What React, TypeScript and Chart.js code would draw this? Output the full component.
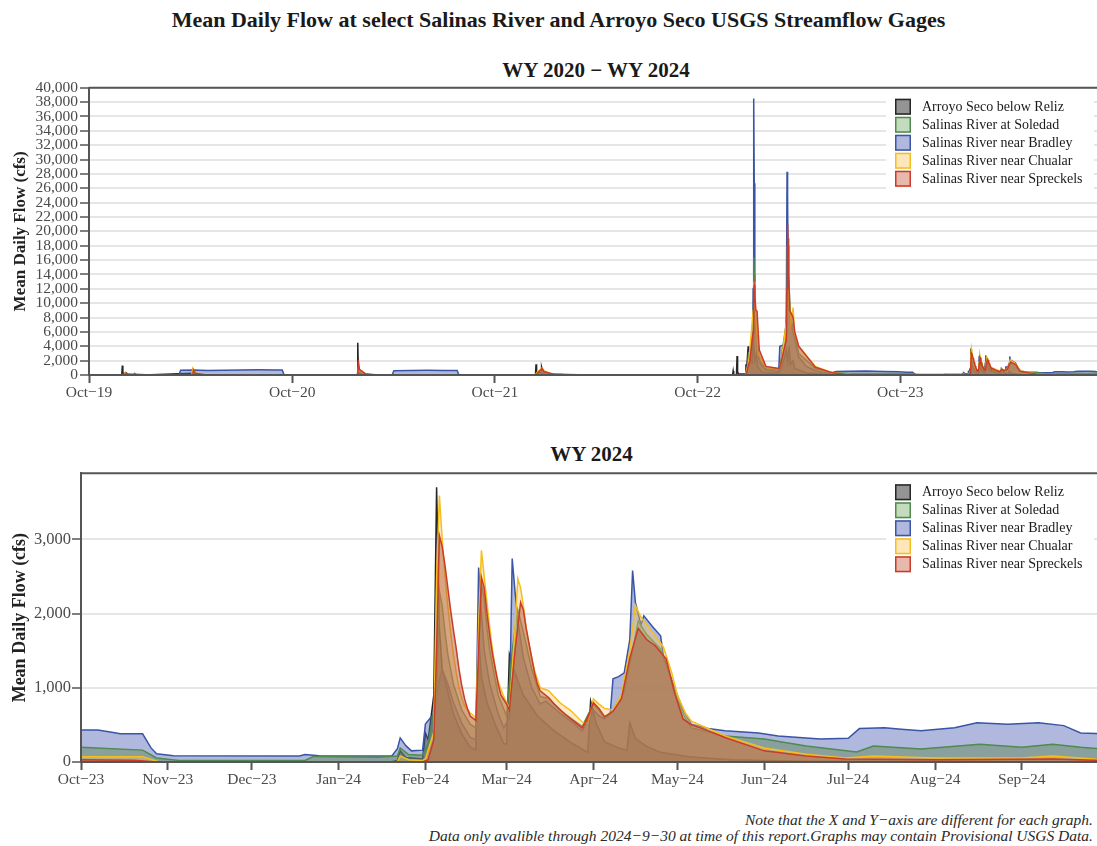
import React, { useEffect, useRef } from "react";
import { Chart, registerables } from "chart.js";

Chart.register(...registerables);

type Pt = [string, number];

// ---------- WY2020 – WY2023 (Oct 2019 – Sep 2023) ----------
const arroyoEarly: Pt[] = [
  ["2019-10-01", 3], ["2019-11-29", 5], ["2019-11-30", 1300], ["2019-12-01", 350], ["2019-12-03", 150],
  ["2019-12-06", 300], ["2019-12-08", 120], ["2019-12-21", 80], ["2019-12-22", 200], ["2019-12-25", 70],
  ["2020-01-20", 30], ["2020-04-05", 250], ["2020-04-08", 80], ["2020-06-01", 5],
  ["2021-01-26", 5], ["2021-01-27", 4500], ["2021-01-28", 900], ["2021-01-31", 300], ["2021-02-15", 80],
  ["2021-04-15", 15], ["2021-12-13", 5], ["2021-12-14", 1500], ["2021-12-15", 400], ["2021-12-23", 300],
  ["2021-12-24", 1100], ["2021-12-26", 500], ["2021-12-31", 250], ["2022-02-01", 60], ["2022-05-01", 5],
  ["2022-12-03", 5], ["2022-12-04", 560], ["2022-12-05", 50], ["2022-12-10", 50], ["2022-12-11", 2650],
  ["2022-12-12", 400], ["2022-12-14", 150], ["2022-12-26", 150], ["2022-12-27", 1500], ["2022-12-28", 500],
  ["2022-12-31", 4000], ["2023-01-01", 1800], ["2023-01-04", 2500], ["2023-01-05", 3500], ["2023-01-07", 1500],
  ["2023-01-09", 6000], ["2023-01-10", 4000], ["2023-01-12", 2000], ["2023-01-15", 3000], ["2023-01-17", 1200],
  ["2023-01-25", 400], ["2023-02-15", 250], ["2023-02-25", 350], ["2023-03-01", 1000], ["2023-03-10", 3500],
  ["2023-03-12", 2000], ["2023-03-15", 4000], ["2023-03-17", 1500], ["2023-03-22", 2000], ["2023-03-25", 900],
  ["2023-04-15", 300], ["2023-05-15", 100], ["2023-06-15", 30], ["2023-09-30", 5],
];

const bradleyEarly: Pt[] = [
  ["2019-10-01", 30], ["2019-11-30", 60], ["2019-12-06", 120], ["2019-12-15", 50], ["2020-03-11", 30],
  ["2020-03-14", 650], ["2020-04-06", 700], ["2020-05-01", 620], ["2020-06-01", 660], ["2020-07-01", 700],
  ["2020-08-01", 720], ["2020-09-01", 710], ["2020-09-13", 700], ["2020-09-16", 60], ["2021-01-26", 20],
  ["2021-01-28", 300], ["2021-02-10", 60], ["2021-03-30", 30], ["2021-04-02", 600], ["2021-05-01", 620],
  ["2021-06-01", 650], ["2021-07-01", 640], ["2021-07-25", 620], ["2021-07-28", 20], ["2021-12-22", 10],
  ["2021-12-25", 200], ["2022-01-10", 60], ["2022-06-01", 10], ["2022-12-24", 10], ["2022-12-28", 300],
  ["2022-12-31", 2500], ["2023-01-02", 1500], ["2023-01-05", 3000], ["2023-01-08", 5000], ["2023-01-09", 12000],
  ["2023-01-10", 38500], ["2023-01-11", 26700], ["2023-01-12", 13000], ["2023-01-13", 8000], ["2023-01-16", 4000],
  ["2023-01-22", 1500], ["2023-02-01", 700], ["2023-02-24", 500], ["2023-02-26", 4000], ["2023-03-05", 4200],
  ["2023-03-09", 4500], ["2023-03-10", 12000], ["2023-03-11", 28300], ["2023-03-12", 25000], ["2023-03-13", 14000],
  ["2023-03-15", 9000], ["2023-03-18", 7000], ["2023-03-22", 6000], ["2023-04-01", 2500], ["2023-04-15", 1200],
  ["2023-05-01", 600], ["2023-05-20", 250], ["2023-06-01", 350], ["2023-06-08", 480], ["2023-07-01", 520],
  ["2023-08-01", 560], ["2023-09-01", 500], ["2023-09-30", 440],
];

const soledadEarly: Pt[] = [
  ["2019-10-01", 20], ["2019-12-01", 30], ["2019-12-07", 250], ["2019-12-15", 60], ["2020-04-04", 40],
  ["2020-04-07", 300], ["2020-04-15", 60], ["2020-06-01", 10], ["2021-01-26", 10], ["2021-01-28", 800],
  ["2021-02-05", 150], ["2021-03-01", 30], ["2021-12-22", 30], ["2021-12-25", 500], ["2022-01-05", 150],
  ["2022-03-01", 20], ["2022-12-26", 20], ["2022-12-30", 800], ["2023-01-01", 3000], ["2023-01-05", 2500],
  ["2023-01-09", 8000], ["2023-01-10", 16400], ["2023-01-11", 14000], ["2023-01-12", 10000], ["2023-01-14", 6000],
  ["2023-01-20", 2000], ["2023-02-01", 900], ["2023-02-25", 700], ["2023-03-01", 2500], ["2023-03-11", 8000],
  ["2023-03-12", 17000], ["2023-03-13", 19000], ["2023-03-14", 14000], ["2023-03-17", 8000], ["2023-03-24", 6000],
  ["2023-04-01", 3000], ["2023-05-01", 900], ["2023-06-01", 300], ["2023-07-01", 200], ["2023-09-30", 200],
];

const chualarEarly: Pt[] = [
  ["2019-10-01", 10], ["2019-12-04", 10], ["2019-12-06", 400], ["2019-12-09", 120], ["2019-12-25", 100],
  ["2020-01-15", 20], ["2020-04-03", 10], ["2020-04-05", 900], ["2020-04-08", 300], ["2020-05-01", 20],
  ["2021-01-26", 10], ["2021-01-28", 1000], ["2021-01-31", 500], ["2021-02-15", 50], ["2021-12-13", 10],
  ["2021-12-15", 300], ["2021-12-25", 1000], ["2021-12-28", 600], ["2022-01-10", 150], ["2022-03-01", 10],
  ["2022-12-26", 10], ["2022-12-31", 1500], ["2023-01-02", 2500], ["2023-01-09", 9000], ["2023-01-10", 12500],
  ["2023-01-11", 13000], ["2023-01-12", 10500], ["2023-01-14", 7500], ["2023-01-18", 3000], ["2023-02-01", 1000],
  ["2023-02-25", 800], ["2023-03-01", 2000], ["2023-03-11", 8000], ["2023-03-12", 18000], ["2023-03-13", 17000],
  ["2023-03-15", 10000], ["2023-03-18", 7000], ["2023-03-22", 9400], ["2023-03-24", 6000], ["2023-04-01", 4000],
  ["2023-05-01", 1200], ["2023-06-01", 300], ["2023-07-01", 120], ["2023-09-30", 70],
];

const spreckelsEarly: Pt[] = [
  ["2019-10-01", 5], ["2019-12-05", 10], ["2019-12-07", 300], ["2019-12-10", 100], ["2020-01-10", 20],
  ["2020-04-05", 10], ["2020-04-06", 700], ["2020-04-09", 250], ["2020-05-01", 10], ["2021-01-26", 5],
  ["2021-01-27", 50], ["2021-01-28", 2050], ["2021-01-30", 800], ["2021-02-10", 150], ["2021-03-01", 10],
  ["2021-12-14", 5], ["2021-12-16", 200], ["2021-12-25", 900], ["2021-12-28", 500], ["2022-01-15", 80],
  ["2022-03-01", 5], ["2022-12-27", 5], ["2022-12-31", 1200], ["2023-01-03", 2000], ["2023-01-09", 6000],
  ["2023-01-10", 12000], ["2023-01-11", 12500], ["2023-01-12", 11000], ["2023-01-14", 9000], ["2023-01-16", 8900],
  ["2023-01-20", 3500], ["2023-02-01", 1200], ["2023-02-25", 900], ["2023-03-01", 2000], ["2023-03-10", 5000],
  ["2023-03-11", 12000], ["2023-03-12", 21000], ["2023-03-13", 18000], ["2023-03-14", 14000], ["2023-03-16", 9000],
  ["2023-03-22", 8000], ["2023-03-25", 6000], ["2023-04-01", 4000], ["2023-05-01", 1100], ["2023-06-01", 300],
  ["2023-07-01", 50], ["2023-09-30", 25],
];

// ---------- WY2024 (Oct 2023 – Sep 2024) ----------
const arroyo24: Pt[] = [
  ["2023-10-01", 5], ["2024-01-20", 5], ["2024-01-22", 20], ["2024-01-23", 150], ["2024-01-25", 60],
  ["2024-01-31", 40], ["2024-02-01", 390], ["2024-02-02", 300], ["2024-02-04", 900], ["2024-02-05", 3700],
  ["2024-02-06", 1800], ["2024-02-07", 1250], ["2024-02-09", 950], ["2024-02-11", 650], ["2024-02-14", 380],
  ["2024-02-17", 200], ["2024-02-19", 160], ["2024-02-20", 1700], ["2024-02-21", 1150], ["2024-02-23", 800],
  ["2024-02-26", 500], ["2024-02-29", 250], ["2024-03-01", 240], ["2024-03-02", 1450], ["2024-03-04", 1200],
  ["2024-03-07", 900], ["2024-03-12", 620], ["2024-03-18", 420], ["2024-03-24", 260], ["2024-03-30", 130],
  ["2024-03-31", 820], ["2024-04-02", 520], ["2024-04-05", 270], ["2024-04-10", 190], ["2024-04-13", 160],
  ["2024-04-14", 530], ["2024-04-16", 320], ["2024-04-20", 210], ["2024-04-25", 130], ["2024-05-05", 70],
  ["2024-05-20", 30], ["2024-06-15", 10], ["2024-09-30", 2],
];

const bradley24: Pt[] = [
  ["2023-10-01", 430], ["2023-10-07", 430], ["2023-10-12", 400], ["2023-10-15", 380], ["2023-10-23", 380],
  ["2023-10-26", 190], ["2023-10-28", 110], ["2023-11-03", 85], ["2023-12-18", 80], ["2023-12-20", 100],
  ["2023-12-25", 85], ["2024-01-20", 80], ["2024-01-22", 180], ["2024-01-23", 325], ["2024-01-25", 220],
  ["2024-01-27", 150], ["2024-01-31", 160], ["2024-02-01", 510], ["2024-02-04", 650], ["2024-02-06", 1100],
  ["2024-02-07", 1250], ["2024-02-09", 1050], ["2024-02-11", 800], ["2024-02-14", 520], ["2024-02-17", 330],
  ["2024-02-19", 300], ["2024-02-20", 2620], ["2024-02-21", 2000], ["2024-02-22", 1500], ["2024-02-24", 1050],
  ["2024-02-27", 650], ["2024-02-29", 460], ["2024-03-02", 600], ["2024-03-03", 2740], ["2024-03-04", 2300],
  ["2024-03-05", 1900], ["2024-03-07", 1400], ["2024-03-10", 1000], ["2024-03-13", 780], ["2024-03-15", 820],
  ["2024-03-20", 660], ["2024-03-25", 520], ["2024-03-28", 420], ["2024-04-01", 700], ["2024-04-03", 620],
  ["2024-04-05", 580], ["2024-04-07", 650], ["2024-04-08", 1120], ["2024-04-10", 1150], ["2024-04-12", 1200],
  ["2024-04-14", 1650], ["2024-04-15", 2580], ["2024-04-16", 2150], ["2024-04-18", 1850], ["2024-04-19", 1970],
  ["2024-04-22", 1830], ["2024-04-25", 1700], ["2024-04-26", 1430], ["2024-04-30", 1000], ["2024-05-03", 700],
  ["2024-05-06", 510], ["2024-05-12", 450], ["2024-05-18", 420], ["2024-05-30", 390], ["2024-06-06", 350],
  ["2024-06-21", 310], ["2024-07-01", 320], ["2024-07-05", 450], ["2024-07-14", 460], ["2024-07-20", 440],
  ["2024-07-27", 420], ["2024-08-08", 460], ["2024-08-16", 530], ["2024-08-27", 510], ["2024-09-07", 530],
  ["2024-09-16", 490], ["2024-09-22", 390], ["2024-09-30", 380],
];

const soledad24: Pt[] = [
  ["2023-10-01", 200], ["2023-10-23", 160], ["2023-10-28", 55], ["2023-11-05", 20], ["2023-12-20", 20],
  ["2023-12-23", 75], ["2024-01-15", 65], ["2024-01-22", 80], ["2024-01-23", 190], ["2024-01-26", 100],
  ["2024-01-31", 90], ["2024-02-02", 250], ["2024-02-05", 900], ["2024-02-06", 2300], ["2024-02-07", 2100],
  ["2024-02-08", 1750], ["2024-02-09", 1450], ["2024-02-11", 1050], ["2024-02-14", 700], ["2024-02-17", 510],
  ["2024-02-19", 460], ["2024-02-20", 1400], ["2024-02-21", 2400], ["2024-02-22", 2200], ["2024-02-23", 1800],
  ["2024-02-24", 1500], ["2024-02-27", 900], ["2024-03-01", 620], ["2024-03-03", 1500], ["2024-03-05", 2050],
  ["2024-03-07", 1750], ["2024-03-10", 1250], ["2024-03-13", 880], ["2024-03-16", 860], ["2024-03-20", 700],
  ["2024-03-25", 560], ["2024-03-28", 480], ["2024-04-01", 780], ["2024-04-03", 700], ["2024-04-05", 600],
  ["2024-04-08", 700], ["2024-04-12", 950], ["2024-04-15", 1500], ["2024-04-17", 1900], ["2024-04-20", 1720],
  ["2024-04-25", 1520], ["2024-04-28", 1200], ["2024-05-01", 850], ["2024-05-03", 650], ["2024-05-06", 460],
  ["2024-05-18", 350], ["2024-06-01", 310], ["2024-06-16", 215], ["2024-07-04", 135], ["2024-07-10", 215],
  ["2024-07-27", 175], ["2024-08-17", 240], ["2024-09-01", 200], ["2024-09-12", 240], ["2024-09-22", 200],
  ["2024-09-30", 175],
];

const chualar24: Pt[] = [
  ["2023-10-01", 70], ["2023-10-23", 70], ["2023-10-29", 2], ["2024-01-22", 2], ["2024-01-23", 80],
  ["2024-01-26", 30], ["2024-01-31", 20], ["2024-02-01", 40], ["2024-02-04", 400], ["2024-02-05", 2500],
  ["2024-02-06", 3590], ["2024-02-07", 3000], ["2024-02-08", 2500], ["2024-02-09", 2100], ["2024-02-10", 1750],
  ["2024-02-11", 1450], ["2024-02-12", 1200], ["2024-02-13", 1000], ["2024-02-14", 860], ["2024-02-15", 760],
  ["2024-02-17", 660], ["2024-02-19", 600], ["2024-02-20", 1800], ["2024-02-21", 2850], ["2024-02-22", 2500],
  ["2024-02-23", 2150], ["2024-02-24", 1800], ["2024-02-25", 1500], ["2024-02-26", 1250], ["2024-02-27", 1080],
  ["2024-02-29", 880], ["2024-03-01", 800], ["2024-03-02", 720], ["2024-03-04", 1800], ["2024-03-05", 2470],
  ["2024-03-06", 2350], ["2024-03-07", 2100], ["2024-03-08", 1800], ["2024-03-09", 1580], ["2024-03-10", 1400],
  ["2024-03-11", 1230], ["2024-03-13", 1000], ["2024-03-16", 960], ["2024-03-20", 800], ["2024-03-24", 690],
  ["2024-03-28", 540], ["2024-03-30", 520], ["2024-04-01", 850], ["2024-04-03", 780], ["2024-04-05", 720],
  ["2024-04-08", 700], ["2024-04-11", 900], ["2024-04-14", 1500], ["2024-04-16", 2110], ["2024-04-18", 1950],
  ["2024-04-22", 1750], ["2024-04-26", 1550], ["2024-04-29", 1200], ["2024-05-01", 900], ["2024-05-04", 650],
  ["2024-05-06", 550], ["2024-05-18", 350], ["2024-06-01", 190], ["2024-06-16", 105], ["2024-06-30", 55],
  ["2024-07-10", 80], ["2024-08-01", 55], ["2024-09-01", 55], ["2024-09-12", 80], ["2024-09-30", 30],
];

const spreckels24: Pt[] = [
  ["2023-10-01", 30], ["2023-10-20", 25], ["2023-10-28", 1], ["2024-01-31", 1], ["2024-02-02", 30],
  ["2024-02-04", 300], ["2024-02-05", 1500], ["2024-02-06", 3050], ["2024-02-07", 2900], ["2024-02-08", 2650],
  ["2024-02-09", 2350], ["2024-02-10", 2050], ["2024-02-11", 1780], ["2024-02-12", 1530], ["2024-02-13", 1250],
  ["2024-02-14", 1030], ["2024-02-15", 850], ["2024-02-16", 720], ["2024-02-17", 620], ["2024-02-19", 560],
  ["2024-02-20", 1500], ["2024-02-21", 2490], ["2024-02-22", 2350], ["2024-02-23", 2000], ["2024-02-24", 1700],
  ["2024-02-25", 1450], ["2024-02-26", 1250], ["2024-02-27", 1050], ["2024-02-28", 900], ["2024-03-01", 780],
  ["2024-03-02", 700], ["2024-03-04", 1500], ["2024-03-06", 2150], ["2024-03-07", 2050], ["2024-03-08", 1800],
  ["2024-03-09", 1600], ["2024-03-10", 1400], ["2024-03-11", 1200], ["2024-03-12", 1050], ["2024-03-13", 960],
  ["2024-03-16", 870], ["2024-03-18", 780], ["2024-03-22", 640], ["2024-03-26", 520], ["2024-03-28", 460],
  ["2024-03-30", 600], ["2024-04-01", 800], ["2024-04-03", 720], ["2024-04-05", 610], ["2024-04-08", 680],
  ["2024-04-11", 850], ["2024-04-14", 1400], ["2024-04-17", 1800], ["2024-04-20", 1650], ["2024-04-23", 1570],
  ["2024-04-27", 1390], ["2024-04-30", 930], ["2024-05-03", 580], ["2024-05-06", 500], ["2024-05-10", 450],
  ["2024-05-18", 330], ["2024-06-01", 150], ["2024-06-16", 80], ["2024-06-30", 40], ["2024-08-01", 30],
  ["2024-09-12", 40], ["2024-09-30", 20],
];

// ---------- labels / ticks ----------
const seriesNames = [
  "Arroyo Seco below Reliz",
  "Salinas River at Soledad",
  "Salinas River near Bradley",
  "Salinas River near Chualar",
  "Salinas River near Spreckels",
];
const topTickDates = ["2019-10-01", "2020-10-01", "2021-10-01", "2022-10-01", "2023-10-01"];
const topTickLabels = ["Oct−19", "Oct−20", "Oct−21", "Oct−22", "Oct−23"];
const bottomTickDates = [
  "2023-10-01", "2023-11-01", "2023-12-01", "2024-01-01", "2024-02-01", "2024-03-01",
  "2024-04-01", "2024-05-01", "2024-06-01", "2024-07-01", "2024-08-01", "2024-09-01",
];
const bottomTickLabels = [
  "Oct−23", "Nov−23", "Dec−23", "Jan−24", "Feb−24", "Mar−24",
  "Apr−24", "May−24", "Jun−24", "Jul−24", "Aug−24", "Sep−24",
];
const topYTicks = [0, 2000, 4000, 6000, 8000, 10000, 12000, 14000, 16000, 18000, 20000, 22000, 24000, 26000, 28000, 30000, 32000, 34000, 36000, 38000, 40000];
const bottomYTicks = [0, 1000, 2000, 3000];

// style (legend order): Arroyo, Soledad, Bradley, Chualar, Spreckels
const lineColors = ["#262626", "#4f8a4f", "#3a55a6", "#f4bf1c", "#cc3a28"];
const fillColors = [
  "rgba(60,60,60,0.5)",
  "rgba(90,130,80,0.45)",
  "rgba(80,100,180,0.45)",
  "rgba(250,200,100,0.38)",
  "rgba(180,95,65,0.5)",
];
const legendFills = [
  "rgba(60,60,60,0.55)",
  "rgba(110,165,90,0.4)",
  "rgba(80,100,180,0.45)",
  "rgba(250,200,100,0.45)",
  "rgba(200,100,70,0.45)",
];
const drawOrder = [5, 3, 4, 2, 1];

const FONT = '"Liberation Serif", "Times New Roman", serif';

const toDay = (s: string) =>
  Date.UTC(+s.slice(0, 4), +s.slice(5, 7) - 1, +s.slice(8, 10)) / 86400000;
const toXY = (arr: Pt[]) => arr.map(([d, v]) => ({ x: toDay(d), y: v }));

const framePlugin = {
  id: "frameLegend",
  afterDatasetsDraw(chart: any) {
    const { ctx, chartArea: a } = chart;
    ctx.save();
    ctx.strokeStyle = "#555";
    ctx.lineWidth = 2;
    ctx.beginPath();
    ctx.moveTo(a.left, a.top);
    ctx.lineTo(a.right + 2, a.top);
    ctx.moveTo(a.left, a.top);
    ctx.lineTo(a.left, a.bottom);
    ctx.lineTo(a.right + 2, a.bottom);
    ctx.stroke();

    const x0 = 895;
    const y0 = a.top + 11;
    ctx.fillStyle = "#ffffff";
    ctx.fillRect(886, y0 - 6, 208, 5 * 18 + 10);
    seriesNames.forEach((name, i) => {
      const y = y0 + i * 18;
      ctx.fillStyle = legendFills[i];
      ctx.fillRect(x0, y, 16, 16);
      ctx.strokeStyle = lineColors[i];
      ctx.lineWidth = 1.5;
      ctx.strokeRect(x0 + 0.75, y + 0.75, 14.5, 14.5);
      ctx.fillStyle = "#1a1a1a";
      ctx.font = `14px ${FONT}`;
      ctx.textBaseline = "middle";
      ctx.textAlign = "left";
      ctx.fillText(name, 922, y + 8.5);
    });
    ctx.restore();
  },
};

function makeChart(
  canvas: HTMLCanvasElement,
  series: Pt[][],
  xMin: string,
  xMax: string,
  tickDates: string[],
  tickLabels: string[],
  yMax: number,
  yTicks: number[],
  yAxisWidth: number,
  yFontSize: number,
  yTitleSize: number,
  yTickPad: number
) {
  const tickDays = tickDates.map(toDay);
  return new Chart(canvas, {
    type: "line",
    data: {
      datasets: series.map((s, i) => ({
        label: seriesNames[i],
        data: toXY(s),
        borderColor: lineColors[i],
        backgroundColor: fillColors[i],
        borderWidth: 1.5,
        pointRadius: 0,
        tension: 0,
        fill: "origin",
        order: drawOrder[i],
      })),
    },
    options: {
      responsive: false,
      animation: false,
      events: [],
      layout: { padding: { top: 9, left: 0, right: 1, bottom: 0 } },
      plugins: { legend: { display: false }, tooltip: { enabled: false }, title: { display: false } },
      scales: {
        x: {
          type: "linear",
          min: toDay(xMin),
          max: toDay(xMax),
          afterBuildTicks: (scale: any) => {
            scale.ticks = tickDays.map((v) => ({ value: v }));
          },
          afterFit: (scale: any) => {
            scale.height = 40;
          },
          ticks: {
            autoSkip: false,
            maxRotation: 0,
            padding: 1,
            color: "#4a4a4a",
            font: { family: FONT, size: 15.5 },
            callback: (_v: any, idx: number) => tickLabels[idx],
          },
          grid: { drawOnChartArea: false, drawTicks: true, tickLength: 8, tickColor: "#555", tickWidth: 2 },
          border: { display: true, color: "#555", width: 2 },
        },
        y: {
          type: "linear",
          min: 0,
          max: yMax,
          afterBuildTicks: (scale: any) => {
            scale.ticks = yTicks.map((v) => ({ value: v }));
          },
          afterFit: (scale: any) => {
            scale.width = yAxisWidth;
          },
          ticks: {
            autoSkip: false,
            padding: yTickPad,
            color: "#4a4a4a",
            font: { family: FONT, size: yFontSize, lineHeight: 1.0 },
            callback: (v: any) => Number(v).toLocaleString("en-US"),
          },
          grid: { color: "#e6e6e6", lineWidth: 2, tickColor: "#555", tickLength: 9, tickWidth: 1.5 },
          border: { display: true, color: "#555", width: 2 },
          title: {
            display: true,
            text: "Mean Daily Flow (cfs)",
            color: "#222",
            font: { family: FONT, size: yTitleSize, weight: "bold" },
            padding: { top: 10, bottom: 0 },
          },
        },
      },
    },
    plugins: [framePlugin],
  } as any);
}

export default function App() {
  const topRef = useRef<HTMLCanvasElement | null>(null);
  const botRef = useRef<HTMLCanvasElement | null>(null);

  useEffect(() => {
    Chart.defaults.font.family = FONT;
    const topSeries = [
      [...arroyoEarly, ...arroyo24],
      [...soledadEarly, ...soledad24],
      [...bradleyEarly, ...bradley24],
      [...chualarEarly, ...chualar24],
      [...spreckelsEarly, ...spreckels24],
    ];
    const botSeries = [arroyo24, soledad24, bradley24, chualar24, spreckels24];
    const c1 = makeChart(
      topRef.current!, topSeries, "2019-10-01", "2024-09-30",
      topTickDates, topTickLabels, 40000, topYTicks, 89, 15.5, 17, 2
    );
    const c2 = makeChart(
      botRef.current!, botSeries, "2023-10-01", "2024-09-30",
      bottomTickDates, bottomTickLabels, 3890, bottomYTicks, 81, 16.5, 18, 1
    );
    return () => {
      c1.destroy();
      c2.destroy();
    };
  }, []);

  const titleStyle: React.CSSProperties = {
    position: "absolute",
    fontFamily: FONT,
    fontWeight: "bold",
    color: "#1a1a1a",
    whiteSpace: "nowrap",
    textAlign: "center",
    lineHeight: "24px",
  };

  return (
    <div
      style={{
        position: "absolute",
        left: 0,
        top: 0,
        width: 1097,
        height: 846,
        overflow: "hidden",
        background: "#fff",
      }}
    >
      <div style={{ ...titleStyle, left: 0, width: 1117, top: 8, fontSize: 22 }}>
        Mean Daily Flow at select Salinas River and Arroyo Seco USGS Streamflow Gages
      </div>
      <div style={{ ...titleStyle, left: 0, width: 1192, top: 58, fontSize: 21 }}>
        WY 2020 − WY 2024
      </div>
      <canvas
        ref={topRef}
        width={1104}
        height={337}
        style={{ position: "absolute", left: 0, top: 78, width: 1104, height: 337 }}
      />
      <div style={{ ...titleStyle, left: 0, width: 1183, top: 442, fontSize: 21 }}>WY 2024</div>
      <canvas
        ref={botRef}
        width={1104}
        height={338}
        style={{ position: "absolute", left: 0, top: 464, width: 1104, height: 338 }}
      />
      <div
        style={{
          position: "absolute",
          right: 4,
          top: 812,
          fontFamily: FONT,
          fontStyle: "italic",
          fontSize: 15.5,
          lineHeight: "16px",
          color: "#2a2a2a",
          textAlign: "right",
          whiteSpace: "nowrap",
        }}
      >
        Note that the X and Y−axis are different for each graph.
        <br />
        Data only avalible through 2024−9−30 at time of this report.Graphs may contain Provisional USGS Data.
      </div>
    </div>
  );
}
